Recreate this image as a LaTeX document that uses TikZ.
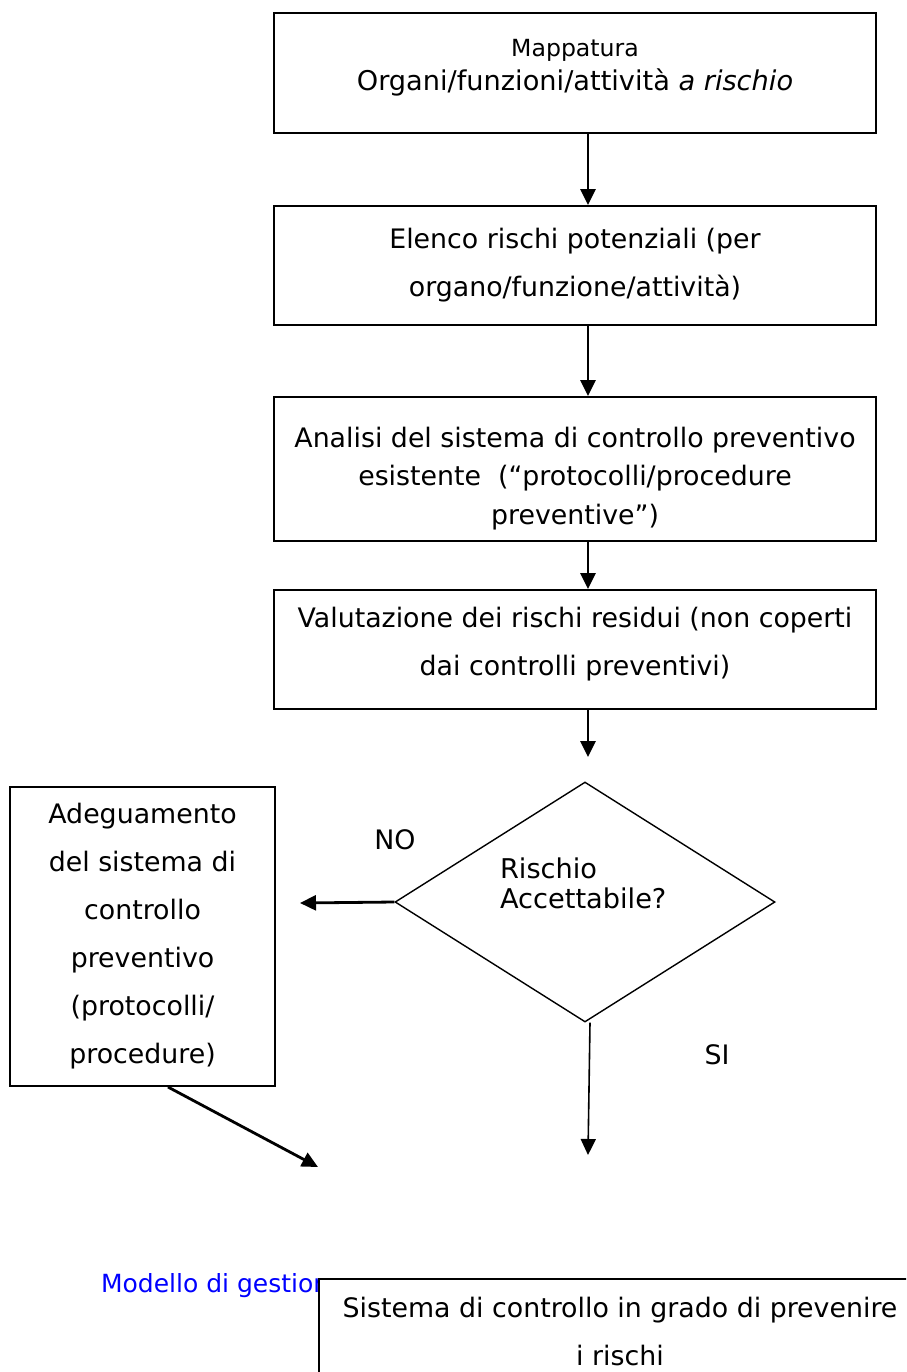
\documentclass[tikz,border=0pt]{standalone}
\usepackage{fontspec}
\setmainfont{DejaVu Sans}
\definecolor{linkblue}{RGB}{0,0,255}
\usetikzlibrary{positioning,shapes,arrows.meta}

\begin{document}
\begin{tikzpicture}[x=0.5pt,y=-0.5pt,
    every node/.style={font=\fontsize{13.4}{24}\selectfont},
    stepbox/.style={draw,line width=1pt,rectangle,align=center,minimum width=301pt,inner sep=0pt},
    choice/.style={draw,line width=0.7pt,diamond,minimum width=190pt,minimum height=120pt,inner sep=0pt},
    flow/.style={line width=1.4pt,-{Triangle[length=8pt,width=7.5pt]}}
    ]
    \clip (0,0) rectangle (906,1372);

    \node (map) [stepbox,minimum height=60pt,font=\fontsize{13.6}{17}\selectfont] at (575,73)
      {{\fontsize{11.8}{17}\selectfont Mappatura}\\Organi/funzioni/attività \textit{a rischio}\\[-9pt]};
    \node (elenco) [stepbox,minimum height=59.5pt,below of=map,node distance=96.25pt]
      {Elenco rischi potenziali (per\\organo/funzione/attività)};
    \node (analisi) [stepbox,minimum height=72pt,below of=elenco,node distance=101.75pt,font=\fontsize{13.4}{19.25}\selectfont]
      {Analisi del sistema di controllo preventivo\\esistente~ (“protocolli/procedure\\preventive”)\\[-26pt]};
    \node (valut) [stepbox,minimum height=59.5pt,below of=analisi,node distance=90.25pt]
      {Valutazione dei rischi residui (non coperti\\dai controlli preventivi)\\[-16pt]};
    \node (risk) [choice,below of=valut,node distance=126.25pt,xshift=5pt] {};
    \node (risktxt) [anchor=west,align=left,font=\fontsize{13.6}{15}\selectfont] at (493,883) {Rischio\\Accettabile?};
    \node (adeg) [stepbox,minimum width=132.5pt,minimum height=149.5pt] at (142.5,936.5)
      {Adeguamento\\del sistema di\\controllo\\preventivo\\(protocolli/\\procedure)};
    \node (no) at (395,840) {NO};
    \node (si) at (717,1055) {SI};
    \node (foot) [anchor=west,text=linkblue,font=\fontsize{12.5}{14}\selectfont] at (94,1286) {Modello di gestione};
    \node (sist) [stepbox,fill=white,minimum height=52pt,anchor=north west] at (318,1278)
      {Sistema di controllo in grado di prevenire\\i rischi};

    % free ends of the arrows
    \coordinate (v1) at (588,757);
    \coordinate (n1) at (300,903);
    \coordinate (s1) at (588,1155);
    \coordinate (a1) at (318,1167);

    % the edges
    \draw[flow] ([xshift=6.5pt]map.south) -- ([xshift=6.5pt]elenco.north);
    \draw[flow] ([xshift=6.5pt]elenco.south) -- ([xshift=6.5pt]analisi.north);
    \draw[flow] ([xshift=6.5pt]analisi.south) -- ([xshift=6.5pt]valut.north);
    \draw[flow] ([xshift=6.5pt]valut.south) -- (v1);
    \draw[flow] (risk.west) -- (n1);
    \draw[flow,line width=0.8pt] ([xshift=2.5pt]risk.south) -- (s1);
    \draw[flow] ([xshift=12.75pt]adeg.south) -- (a1);
\end{tikzpicture}
\end{document}
